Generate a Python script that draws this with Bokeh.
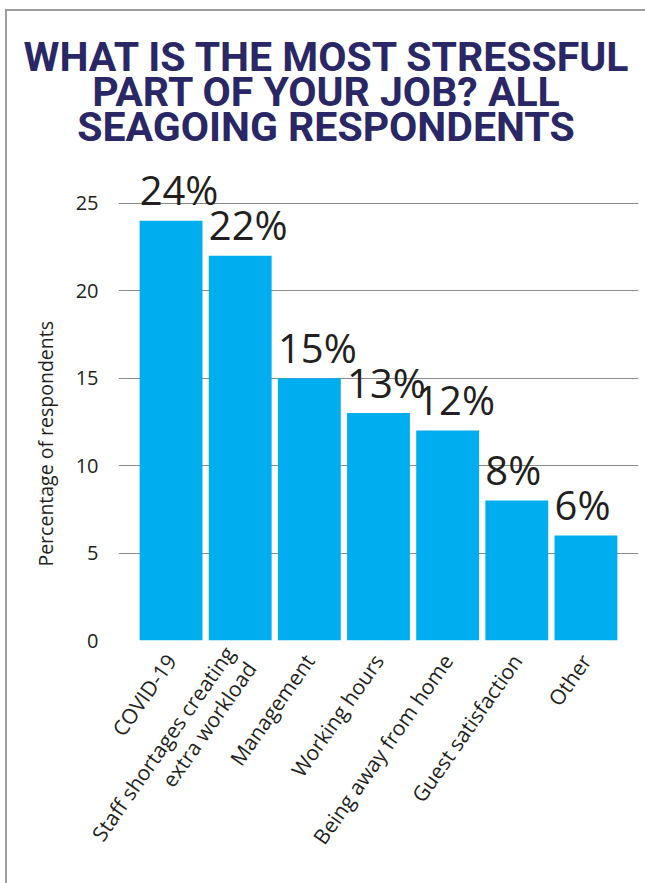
import math
from bokeh.plotting import figure
from bokeh.models import FactorRange, Range1d, ColumnDataSource, Div
from bokeh.layouts import column, row
from bokeh.embed import file_html
from bokeh.resources import INLINE

categories = ["COVID-19", "Staff shortages creating\nextra workload", "Management",
              "Working hours", "Being away from home", "Guest satisfaction", "Other"]
values = [24, 22, 15, 13, 12, 8, 6]
value_labels = ["24%", "22%", "15%", "13%", "12%", "8%", "6%"]
title_lines = ["WHAT IS THE MOST STRESSFUL", "PART OF YOUR JOB? ALL", "SEAGOING RESPONDENTS"]
y_label = "Percentage of respondents"

# page geometry (px)
OX, OY = 7, 11                 # inside of the page frame lines
TITLE_H = 139                  # title block height
YLAB_W = 60                    # y-axis title column width
PAGE_W, PAGE_H = 645, 883
FIG_X, FIG_Y = OX + YLAB_W, OY + TITLE_H
FIG_W, FIG_H = PAGE_W - FIG_X, PAGE_H - FIG_Y
FL, FR, FT, FB = 118 - FIG_X, 638 - FIG_X, 159 - FIG_Y, 640 - FIG_Y
Y_END = 27.5
PAD = 0.26
BAR_W = 0.909

p = figure(width=FIG_W, height=FIG_H, output_backend="svg", toolbar_location=None,
           x_range=FactorRange(*categories, range_padding=PAD, range_padding_units="absolute"),
           y_range=Range1d(0, Y_END),
           min_border_left=FL, min_border_right=FIG_W - FR, min_border_top=FT,
           min_border_bottom=FIG_H - FB, margin=0)
p.outline_line_color = None
p.background_fill_color = "white"
p.border_fill_color = "white"

src = ColumnDataSource(dict(cat=categories, val=values, lab=value_labels))
p.vbar(x="cat", top="val", width=BAR_W, source=src, color="#00AEEF", line_color=None)

bar_px = BAR_W * (FR - FL) / (len(categories) + 2 * PAD)
p.text(x="cat", y="val", text="lab", source=src, text_align="left", text_baseline="alphabetic",
       x_offset=-bar_px / 2, y_offset=-31, text_font_size="40px", text_color="#231f20",
       text_font={"value": "Open Sans"})

# axes
p.xgrid.grid_line_color = None
p.ygrid.grid_line_color = "#8a8a8a"
p.ygrid.grid_line_width = 1
p.yaxis.ticker = [0, 5, 10, 15, 20, 25]
for ax in (p.xaxis[0], p.yaxis[0]):
    ax.axis_line_color = None
    ax.major_tick_line_color = None
    ax.minor_tick_line_color = None
    ax.major_tick_out = 0
    ax.major_tick_in = 0
    ax.minor_tick_out = 0
    ax.major_label_text_font = "Open Sans"
    ax.major_label_text_color = "#231f20"
    ax.major_label_text_font_size = "20px"
p.yaxis.major_label_standoff = 20
p.xaxis.major_label_standoff = 16
p.xaxis.major_label_orientation = math.radians(55)
p.xaxis.major_label_text_font_size = "21px"
p.xaxis.major_label_text_line_height = 0.95

# chart title block
title_html = (
    '<div style="width:%dpx; padding-top:29px; text-align:center; font-family:Roboto, sans-serif;'
    ' font-weight:700; font-size:41px; line-height:35px; color:#2a2766;">%s</div>'
    % (PAGE_W - OX, "<br>".join(title_lines))
)
title_div = Div(text=title_html, width=PAGE_W - OX, height=TITLE_H, margin=0)

# y-axis title column (centre of the text at page y = 444, x = 46)
cy = 444 - FIG_Y
ylab_html = (
    '<div style="height:%dpx; width:%dpx; display:flex; flex-direction:column; justify-content:center;'
    ' align-items:flex-start;">'
    '<div style="writing-mode:vertical-rl; transform:rotate(180deg); margin-left:%dpx; line-height:20px;'
    ' font-family:\'Open Sans\', sans-serif; font-size:19.5px; color:#231f20; white-space:nowrap;">%s</div>'
    '</div>' % (2 * cy, YLAB_W, 46 - OX - 10, y_label)
)
ylab_div = Div(text=ylab_html, width=YLAB_W, height=FIG_H, margin=0)

layout = column(title_div, row(ylab_div, p, margin=0, spacing=0),
                margin=(OY - 2, 0, 0, OX - 2), spacing=0,
                styles={"border-top": "2px solid #9c9c9c", "border-left": "2px solid #9c9c9c"})

open("out.html", "w").write(file_html(layout, INLINE))
